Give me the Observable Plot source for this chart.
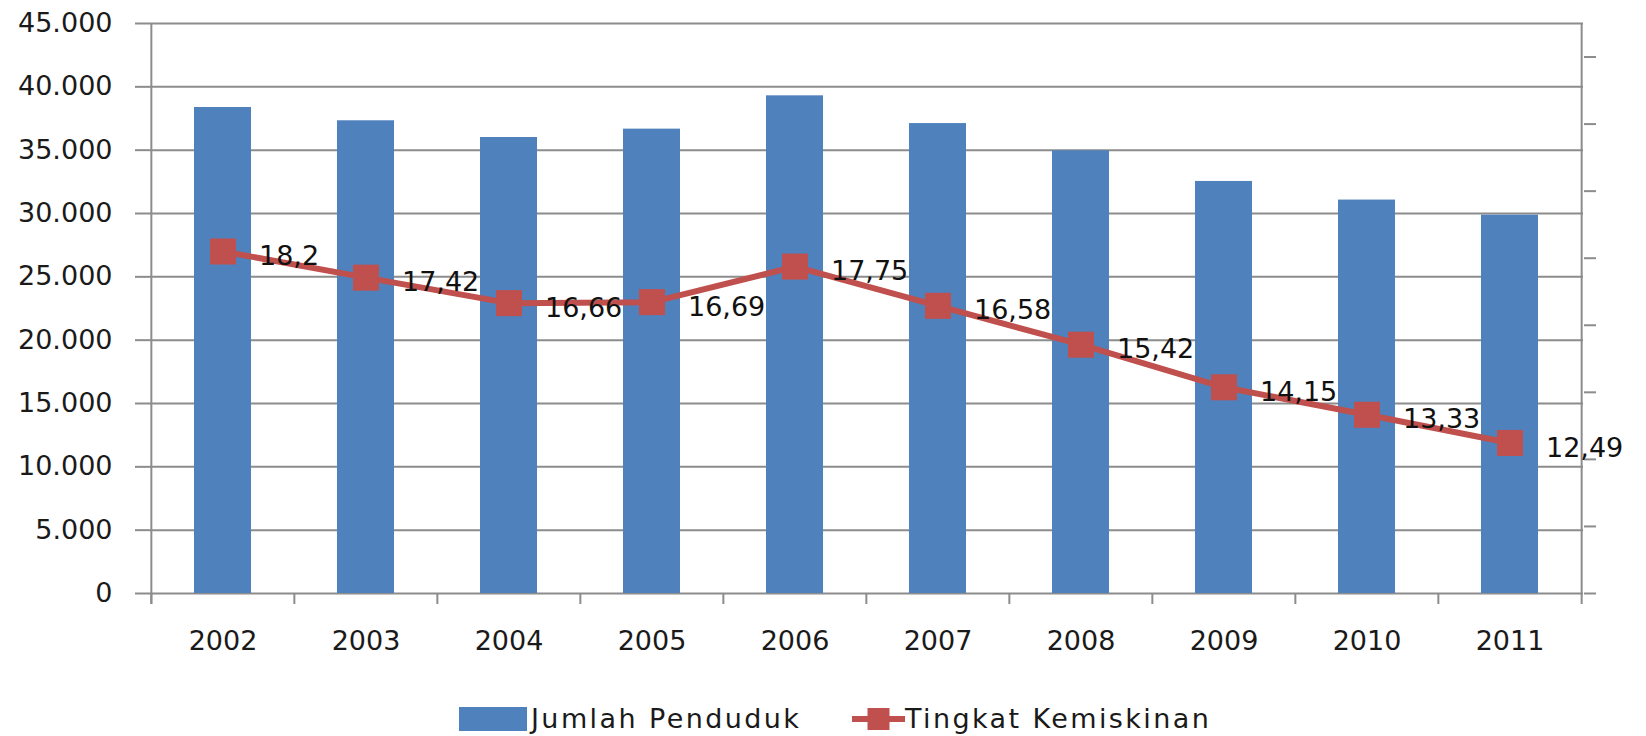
<!DOCTYPE html>
<html>
<head>
<meta charset="utf-8">
<script src="https://cdn.jsdelivr.net/npm/d3@7"></script>
<script src="https://cdn.jsdelivr.net/npm/@observablehq/plot@0.6"></script>
<style>
  body { margin: 0; background: #fff; font-family: "DejaVu Sans", sans-serif; }
  #chart svg { display: block; }
  #legend { position: relative; height: 56px; }
  .item { position: absolute; top: 26px; height: 26px; display: flex; align-items: center; }
  .lbl { font-family: "DejaVu Sans", sans-serif; font-size: 27px; letter-spacing: 2.4px; color: #1a1a1a; line-height: 26px; }
</style>
</head>
<body>
<div id="chart"></div>
<div id="legend"></div>
<script>
// ---- data ----
const years = ["2002", "2003", "2004", "2005", "2006", "2007", "2008", "2009", "2010", "2011"];
const jumlahPenduduk = [38370, 37320, 36000, 36660, 39290, 37100, 34950, 32530, 31060, 29870];
const tingkatKemiskinan = [18.2, 17.42, 16.66, 16.69, 17.75, 16.58, 15.42, 14.15, 13.33, 12.49];
const leftTicks = [0, 5000, 10000, 15000, 20000, 25000, 30000, 35000, 40000, 45000];
const rightTicks = [8, 10, 12, 14, 16, 18, 20, 22, 24];
const rightDomain = [8, 25];
const seriesNames = ["Jumlah Penduduk", "Tingkat Kemiskinan"];

// ---- layout ----
const W = 1646, H = 680, ML = 150, MR = 63, MT = 23, MB = 87;
const step = (W - ML - MR) / years.length;
const leftMax = leftTicks[leftTicks.length - 1];
const toLeft = v => (v - rightDomain[0]) / (rightDomain[1] - rightDomain[0]) * leftMax;
const rows = years.map((y, i) => ({
  year: y, pop: jumlahPenduduk[i], rate: tingkatKemiskinan[i], y2: toLeft(tingkatKemiskinan[i])
}));
const fmtThousands = d => d3.format(",")(d).replace(/,/g, ".");
const fmtDec = d => String(d).replace(".", ",");
const GRID = "#8c8c8c";
const BLUE = "#4F81BD", RED = "#C0504D", INK = "#1a1a1a";

const plot = Plot.plot({
  width: W, height: H,
  marginLeft: ML, marginRight: MR, marginTop: MT, marginBottom: MB,
  style: { fontFamily: "DejaVu Sans", fontSize: "27px", color: INK, background: "#fff" },
  x: { type: "band", domain: years, paddingInner: 0.6, paddingOuter: 0.3 },
  y: { domain: [0, leftMax] },
  marks: [
    Plot.gridY(leftTicks, { stroke: GRID, strokeOpacity: 1, strokeWidth: 2 }),
    Plot.barY(rows, { x: "year", y: "pop", fill: BLUE }),
    Plot.ruleX(years, { x: d => d, y1: 0, y2: 0, insetBottom: -11, dx: -step / 2, stroke: GRID, strokeWidth: 2 }),
    Plot.ruleX([years[0]], { x: d => d, y1: leftMax, y2: 0, insetBottom: -11, dx: -step / 2, stroke: GRID, strokeWidth: 2 }),
    Plot.ruleX([years[years.length - 1]], { x: d => d, y1: leftMax, y2: 0, insetBottom: -11, dx: step / 2, stroke: GRID, strokeWidth: 2 }),
    Plot.axisY(leftTicks, { anchor: "left", tickSize: 15, tickPadding: 23, tickFormat: fmtThousands, stroke: GRID, strokeWidth: 2, fill: INK, fontSize: 27, label: null }),
    Plot.axisY(rightTicks.map(toLeft), { anchor: "right", tickSize: 12, tickFormat: () => "", stroke: GRID, strokeWidth: 2, label: null }),
    Plot.axisX({ tickSize: 0, tickPadding: 37, fontSize: 27, fill: INK, label: null }),
    Plot.line(rows, { x: "year", y: "y2", stroke: RED, strokeWidth: 6 }),
    Plot.dot(rows, { x: "year", y: "y2", symbol: "square", r: 14.7, fill: RED, stroke: "none" }),
    Plot.text(rows, { x: "year", y: "y2", text: d => fmtDec(d.rate), dx: 36, dy: 5, textAnchor: "start", fontSize: 27, fill: "#111" })
  ]
});
document.getElementById("chart").appendChild(plot);

// ---- legend ----
const legend = document.getElementById("legend");
legend.innerHTML = `
  <div class="item" style="left:459px">
    <span style="display:inline-block;width:68px;height:24px;background:${BLUE}"></span>
    <span class="lbl" style="margin-left:4px">${seriesNames[0]}</span>
  </div>
  <div class="item" style="left:852px">
    <svg width="53" height="26" style="display:block"><line x1="0" x2="53" y1="13" y2="13" stroke="${RED}" stroke-width="6"/><rect x="15.5" y="2" width="22" height="22" fill="${RED}"/></svg>
    <span class="lbl">${seriesNames[1]}</span>
  </div>`;
</script>
</body>
</html>
